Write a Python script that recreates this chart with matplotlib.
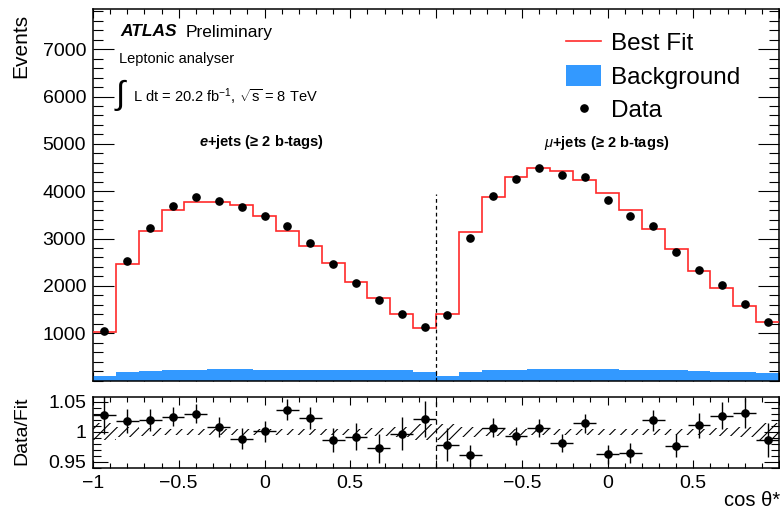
import numpy as np
import matplotlib
matplotlib.use("Agg")
import matplotlib.pyplot as plt
from matplotlib.ticker import MultipleLocator
from matplotlib.lines import Line2D
from matplotlib.patches import Patch

plt.rcParams['font.family'] = ['Liberation Sans', 'DejaVu Sans']
plt.rcParams['mathtext.fontset'] = 'custom'
plt.rcParams['mathtext.rm'] = 'Liberation Sans'
plt.rcParams['mathtext.it'] = 'Liberation Sans:italic'
plt.rcParams['mathtext.bf'] = 'Liberation Sans:bold'
plt.rcParams['mathtext.bfit'] = 'Liberation Sans:bold:italic'
plt.rcParams['hatch.linewidth'] = 0.8

# ---------------- data ----------------
n_bins = 15
channel_offset = 2.0  # mu+jets channel is drawn shifted by +2 in cos(theta*)

e_data = [1050, 2515, 3225, 3695, 3885, 3800, 3660, 3470, 3260, 2900, 2455, 2065, 1695, 1395, 1125]
e_fit = [1020, 2465, 3160, 3610, 3765, 3780, 3710, 3470, 3155, 2840, 2490, 2080, 1750, 1395, 1100]
e_bg = [95, 170, 195, 225, 232, 240, 235, 225, 228, 215, 228, 212, 220, 215, 170]

mu_data = [1385, 3015, 3900, 4255, 4500, 4345, 4290, 3805, 3470, 3265, 2725, 2335, 2010, 1610, 1230]
mu_fit = [1415, 3145, 3875, 4290, 4480, 4430, 4240, 3955, 3595, 3210, 2780, 2310, 1955, 1570, 1240]
mu_bg = [95, 185, 215, 230, 240, 245, 250, 238, 232, 225, 220, 210, 190, 175, 168]

e_ratio = [1.028, 1.018, 1.020, 1.025, 1.030, 1.008, 0.989, 1.001, 1.037, 1.023, 0.987, 0.992, 0.973, 0.997, 1.021]
e_ratio_err = [0.031, 0.020, 0.018, 0.016, 0.016, 0.016, 0.017, 0.017, 0.018, 0.019, 0.020, 0.022, 0.024, 0.027, 0.030]
mu_ratio = [0.979, 0.961, 1.007, 0.993, 1.007, 0.982, 1.014, 0.963, 0.965, 1.019, 0.977, 1.011, 1.027, 1.032, 0.986]
mu_ratio_err = [0.027, 0.018, 0.016, 0.015, 0.015, 0.015, 0.015, 0.016, 0.017, 0.018, 0.019, 0.021, 0.022, 0.025, 0.028]

e_band = [0.014, 0.008, 0.006, 0.005, 0.005, 0.005, 0.005, 0.005, 0.005, 0.005, 0.005, 0.005, 0.006, 0.008, 0.013]
mu_band = [0.013, 0.008, 0.006, 0.005, 0.005, 0.005, 0.005, 0.005, 0.005, 0.005, 0.005, 0.005, 0.006, 0.008, 0.015]

xtick_pos = [-1, -0.5, 0, 0.5, 1, 1.5, 2, 2.5, 3]
xtick_lab = ['\u22121', '\u22120.5', '0', '0.5', '', '\u22120.5', '0', '0.5', '']

# ---------------- derived ----------------
edges_one = np.linspace(-1, 1, n_bins + 1)
edges = np.concatenate([edges_one, edges_one[1:] + channel_offset])
centers = 0.5 * (edges[:-1] + edges[1:])
halfw = 0.5 * np.diff(edges)
data = np.array(e_data + mu_data)
fit = np.array(e_fit + mu_fit)
bg = np.array(e_bg + mu_bg)
ratio = np.array(e_ratio + mu_ratio)
ratio_err = np.array(e_ratio_err + mu_ratio_err)
band = np.array(e_band + mu_band)

RED = '#ff2a2a'
BLUE = '#3399ff'

W, H = 780, 515
fig = plt.figure(figsize=(W / 100, H / 100), dpi=100)

def fx(px):
    return px / W

def fy(py):
    return 1 - py / H

ax = fig.add_axes([fx(93), fy(380.5), fx(779) - fx(93), fy(9) - fy(380.5)])
rax = fig.add_axes([fx(93), fy(468), fx(779) - fx(93), fy(397) - fy(468)])

# ---------------- main panel ----------------
ax.stairs(bg, edges, fill=True, color=BLUE, linewidth=0, zorder=2)
ax.stairs(fit, edges, baseline=None, color=RED, linewidth=1.2, zorder=3)
ax.plot(centers, data, 'o', color='black', markersize=5.2, zorder=4)
ax.vlines(1.0, 0, 3950, colors='black', linestyles=(0, (3, 2.5)), linewidth=0.9, zorder=3)

ax.set_xlim(-1, 3)
ax.set_ylim(0, 7850)
ax.set_yticks([1000, 2000, 3000, 4000, 5000, 6000, 7000])
ax.yaxis.set_minor_locator(MultipleLocator(200))
ax.set_xticks(xtick_pos)
ax.xaxis.set_minor_locator(MultipleLocator(0.1))
ax.tick_params(which='both', direction='in', top=True, right=True, bottom=True, left=True,
               labelbottom=False, labelsize=14, width=0.8)
ax.tick_params(axis='y', which='major', length=15, pad=5)
ax.tick_params(axis='y', which='minor', length=7.5)
ax.tick_params(axis='x', which='major', length=6.5)
ax.tick_params(axis='x', which='minor', length=3.6)
for s in ax.spines.values():
    s.set_linewidth(1.1)

fig.text(fx(21), fy(14), 'Events', rotation=90, ha='center', va='top', fontsize=15)

# legend
handles = [Line2D([], [], color=RED, linewidth=1.2),
           Patch(facecolor=BLUE, edgecolor='none'),
           Line2D([], [], marker='o', color='black', linestyle='none', markersize=5.2)]
ax.legend(handles, ['Best Fit', 'Background', 'Data'], loc='upper left',
          bbox_to_anchor=(fx(554), fy(19)), bbox_transform=fig.transFigure,
          frameon=False, fontsize=17.5, handlelength=1.45, handleheight=1.0,
          labelspacing=0.38, handletextpad=0.4, borderpad=0.0)

# labels
fig.text(fx(120), fy(32), 'ATLAS', fontsize=12.5, fontweight='bold', fontstyle='italic',
         ha='left', va='center')
fig.text(fx(186), fy(32), 'Preliminary', fontsize=12.5, ha='left', va='center')
fig.text(fx(119), fy(59), 'Leptonic analyser', fontsize=10.5, ha='left', va='center')
fig.text(fx(116), fy(95), '\u222b', fontsize=24, ha='left', va='center')
fig.text(fx(133), fy(97), r'L dt = 20.2 fb$^{-1}$, $\sqrt{\mathrm{s}}$ = 8 TeV', fontsize=10.5,
         ha='left', va='center')
fig.text(fx(262), fy(142), r'$\mathbfit{e}$+jets (' + '\u2265' + ' 2 b-tags)',
         fontsize=10.5, fontweight='bold', ha='center', va='center')
fig.text(fx(607), fy(143), r'$\mu$+jets (' + '\u2265' + ' 2 b-tags)',
         fontsize=10.5, fontweight='bold', ha='center', va='center')

# ---------------- ratio panel ----------------
rax.stairs(1 + band, edges, baseline=1 - band, fill=True, facecolor='none',
           edgecolor='black', hatch='///', linewidth=0, zorder=2)
rax.errorbar(centers, ratio, yerr=ratio_err, xerr=halfw, fmt='o', color='black',
             markersize=5.2, elinewidth=1.0, capsize=0, zorder=4)
rax.axvline(1.0, color='black', linestyle=(0, (4, 3)), linewidth=0.9, zorder=3)

rax.set_xlim(-1, 3)
rax.set_ylim(0.94, 1.058)
rax.set_yticks([0.95, 1.0, 1.05])
rax.set_yticklabels(['0.95', '1', '1.05'])
rax.yaxis.set_minor_locator(MultipleLocator(0.01))
rax.set_xticks(xtick_pos)
rax.set_xticklabels(xtick_lab)
rax.xaxis.set_minor_locator(MultipleLocator(0.1))
rax.tick_params(which='both', direction='in', top=True, right=True, bottom=True, left=True,
                labelsize=14, width=0.8)
rax.tick_params(axis='y', which='major', length=11, pad=5)
rax.tick_params(axis='y', which='minor', length=5.5)
rax.tick_params(axis='x', which='major', length=6, pad=5)
rax.tick_params(axis='x', which='minor', length=3.5)
for s in rax.spines.values():
    s.set_linewidth(1.1)

fig.text(fx(22), fy(431), 'Data/Fit', rotation=90, ha='center', va='center', fontsize=14)
fig.text(fx(780), fy(501), 'cos \u03b8*', ha='right', va='center', fontsize=14.5)

fig.savefig('out.png', dpi=100)
